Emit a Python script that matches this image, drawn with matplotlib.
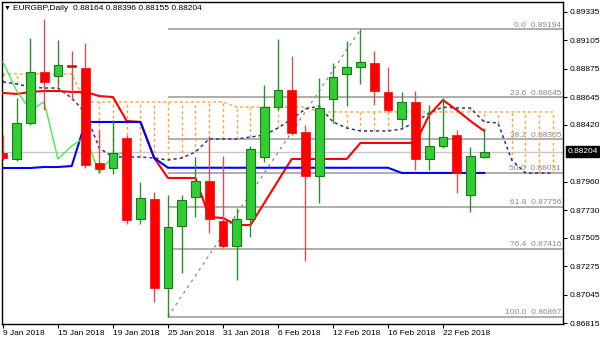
import numpy as np
import matplotlib.pyplot as plt
import matplotlib.transforms as mtransforms

# ------------------------------------
# Data: EURGBP daily, 9 Jan - 27 Feb 2018
# ------------------------------------
open_ = [0.88192, 0.88144, 0.88436, 0.88849, 0.88816, 0.88906, 0.88881, 0.88111, 0.88071, 0.88314,
         0.87658, 0.87820, 0.87099, 0.87601, 0.87836, 0.87966, 0.87641, 0.87439, 0.87658, 0.88160,
         0.88565, 0.88703, 0.88363, 0.88006, 0.88630, 0.88833, 0.88889, 0.88922, 0.88687, 0.88468,
         0.88606, 0.88144, 0.88249, 0.88338, 0.87852, 0.88164]
high = [0.88338, 0.88638, 0.89124, 0.89278, 0.89108, 0.89019, 0.89084, 0.88379, 0.88460, 0.88338,
        0.87958, 0.87876, 0.87852, 0.87852, 0.88160, 0.88330, 0.88168, 0.87747, 0.88249, 0.88743,
        0.89116, 0.88978, 0.88419, 0.88800, 0.88922, 0.89100, 0.89194, 0.89019, 0.88889, 0.88687,
        0.88695, 0.88581, 0.88638, 0.88379, 0.88241, 0.88396]
low = [0.88136, 0.88128, 0.88419, 0.88541, 0.88735, 0.88622, 0.88071, 0.88030, 0.88022, 0.87617,
       0.87617, 0.86985, 0.86867, 0.87220, 0.87674, 0.87544, 0.87423, 0.87163, 0.87512, 0.88120,
       0.88541, 0.88338, 0.87317, 0.87787, 0.88436, 0.88573, 0.88752, 0.88581, 0.88525, 0.88403,
       0.88055, 0.88055, 0.88233, 0.87868, 0.87714, 0.88155]
close = [0.88152, 0.88436, 0.88849, 0.88768, 0.88906, 0.88889, 0.88095, 0.88063, 0.88192, 0.87650,
         0.87828, 0.87099, 0.87593, 0.87812, 0.87966, 0.87658, 0.87439, 0.87658, 0.88225, 0.88565,
         0.88703, 0.88355, 0.88006, 0.88557, 0.88808, 0.88889, 0.88930, 0.88695, 0.88541, 0.88606,
         0.88144, 0.88249, 0.88322, 0.88030, 0.88168, 0.88204]

# Ichimoku lines
tenkan = [0.88679, 0.88671, 0.88687, 0.88695, 0.88695, 0.88687, 0.88687, 0.88654, 0.88646, 0.88452,
          0.88444, 0.88152, 0.87990, 0.87990, 0.87990, 0.87674, 0.87666, 0.87609, 0.87609, 0.87787,
          0.87966, 0.88144, 0.88144, 0.88144, 0.88144, 0.88144, 0.88274, 0.88274, 0.88274, 0.88274,
          0.88274, 0.88500, 0.88622, 0.88541, 0.88452, 0.88371]
kijun = [0.88071, 0.88071, 0.88071, 0.88079, 0.88079, 0.88087, 0.88444, 0.88444, 0.88444, 0.88444,
         0.88444, 0.88152, 0.88073, 0.88073, 0.88073, 0.88073, 0.88073, 0.88073, 0.88073, 0.88073,
         0.88073, 0.88073, 0.88073, 0.88073, 0.88073, 0.88073, 0.88073, 0.88073, 0.88073, 0.88031,
         0.88031, 0.88031, 0.88031, 0.88031, 0.88031, 0.88031]
# cloud runs 5 bars past the last candle
span_a = [0.88768, 0.88752, 0.88727, 0.88719, 0.88719, 0.88638, 0.88517, 0.88233, 0.88160, 0.88160,
          0.88160, 0.88152, 0.88136, 0.88152, 0.88201, 0.88306, 0.88306, 0.88306, 0.88322, 0.88338,
          0.88395, 0.88468, 0.88549, 0.88573, 0.88444, 0.88395, 0.88371, 0.88371, 0.88371, 0.88387,
          0.88444, 0.88517, 0.88565, 0.88557, 0.88557, 0.88444, 0.88436, 0.88136, 0.88030, 0.88030,
          0.88030]
span_b = [0.88833, 0.88833, 0.88833, 0.88833, 0.88833, 0.88833, 0.88606, 0.88606, 0.88606, 0.88606,
          0.88606, 0.88606, 0.88606, 0.88606, 0.88606, 0.88606, 0.88606, 0.88565, 0.88565, 0.88565,
          0.88565, 0.88565, 0.88565, 0.88525, 0.88525, 0.88525, 0.88525, 0.88525, 0.88525, 0.88525,
          0.88525, 0.88525, 0.88525, 0.88525, 0.88525, 0.88525, 0.88525, 0.88525, 0.88525, 0.88525,
          0.88525]
chikou_shift = 26

# Fibonacci retracement 25 Jan low -> 14 Feb high
fib_levels = [0.0, 23.6, 38.2, 50.0, 61.8, 76.4, 100.0]
fib_prices = [0.89194, 0.88645, 0.88305, 0.88031, 0.87756, 0.87416, 0.86867]
fib_start = 12
fib_end = 26

bid = 0.88204

ytick_vals = [0.89335, 0.89105, 0.88875, 0.88645, 0.88420, 0.87960,
              0.87730, 0.87505, 0.87275, 0.87045, 0.86815]
xtick_pos = [0, 4, 8, 12, 16, 20, 24, 28, 32]
xtick_labels = ["9 Jan 2018", "15 Jan 2018", "19 Jan 2018", "25 Jan 2018", "31 Jan 2018",
                "6 Feb 2018", "12 Feb 2018", "16 Feb 2018", "22 Feb 2018"]

# ------------------------------------
# Figure
# ------------------------------------
plt.rcParams["font.family"] = ["Liberation Sans", "DejaVu Sans"]
plt.rcParams["font.size"] = 6

W, H = 600, 343
fig = plt.figure(figsize=(W / 100, H / 100), dpi=100)
ax = fig.add_axes([2 / W, 1 - 324 / H, (563 - 2) / W, (324 - 2) / H])

o = np.array(open_)
c = np.array(close)
hi = np.array(high)
lo = np.array(low)
x = np.arange(len(c))
xf = np.arange(len(span_a))

xmax = 40.73
ax.set_xlim(-0.07, xmax)
ax.set_ylim(0.86807, 0.89416)

# bid line
ax.axhline(bid, color="#C8C8C8", lw=1, zorder=1)

# ------------------------------------
# Fibonacci
# ------------------------------------
ax.hlines(fib_prices, fib_start, xmax, colors="#A0A0A0", lw=1.2, zorder=1)
ax.plot([fib_start, fib_end], [low[fib_start], high[fib_end]],
        ls=(0, (2, 3)), color="#8C8CA0", lw=1, zorder=1)
trans = mtransforms.blended_transform_factory(ax.transAxes, ax.transData)
for lvl, p in zip(fib_levels, fib_prices):
    ax.text(0.997, p + 0.00004, f"{lvl:.1f}  {p:.5f}", transform=trans,
            ha="right", va="bottom", color="#8A8A8A", fontsize=6, zorder=2)

# ------------------------------------
# Ichimoku
# ------------------------------------
ax.vlines(xf, span_a, span_b, colors="#FFA033", linestyles=(0, (2, 2)), lw=1, zorder=2)
ax.plot(xf, span_b, color="#FFA033", ls=(0, (2, 2)), lw=1, zorder=2)
ax.plot(xf, span_a, color="#30308C", ls=(0, (2, 2)), lw=1.1, zorder=2)
ax.plot(x, tenkan, color="#FF0000", lw=1.5, zorder=3)
ax.plot(x, kijun, color="#0000FF", lw=1.5, zorder=3)
ax.plot(x[:len(c) - chikou_shift], c[chikou_shift:], color="#44EE44", lw=1, zorder=3)

# ------------------------------------
# Candles
# ------------------------------------
up = c >= o
dn = ~up
body_w = 0.64
ax.vlines(x[up], lo[up], hi[up], colors="#2E8B2E", lw=1, zorder=4)
ax.vlines(x[dn], lo[dn], hi[dn], colors="#D85050", lw=1, zorder=4)
bottom = np.minimum(o, c)
height = np.maximum(np.abs(c - o), 0.00003)
ax.bar(x[up], height[up], body_w, bottom[up], color="#32CD32",
       edgecolor="#1A7A1A", linewidth=0.8, zorder=5)
ax.bar(x[dn], height[dn], body_w, bottom[dn], color="#FF0000",
       edgecolor="#FF0000", linewidth=0.5, zorder=5)

# ------------------------------------
# Axes styling
# ------------------------------------
for s in ax.spines.values():
    s.set_color("black")
    s.set_linewidth(1)

ax.yaxis.tick_right()
ax.set_yticks(ytick_vals)
ax.set_yticklabels([f"{v:.5f}" for v in ytick_vals])
ax.tick_params(axis="y", length=3, width=0.8, pad=1.5, labelsize=6, colors="black")

ax.set_xticks(xtick_pos)
ax.set_xticklabels(xtick_labels, ha="left")
ax.tick_params(axis="x", length=3, width=0.8, pad=1.5, labelsize=6)
for lab in ax.get_xticklabels():
    lab.set_x(lab.get_position()[0])

# bid label box
ax.annotate(f"{bid:.5f}", xy=(1, bid), xycoords=trans, xytext=(3, 0),
            textcoords="offset points", ha="left", va="center", color="white",
            fontsize=6, annotation_clip=False,
            bbox=dict(boxstyle="square,pad=0.2", fc="black", ec="black"))

# title
fig.text(4 / W, 1 - 8 / H, "▼", fontsize=5, va="center", ha="left")
fig.text(13 / W, 1 - 8 / H, "EURGBP,Daily  0.88164 0.88396 0.88155 0.88204",
         fontsize=6, va="center", ha="left")

fig.savefig("out.png", dpi=100)
